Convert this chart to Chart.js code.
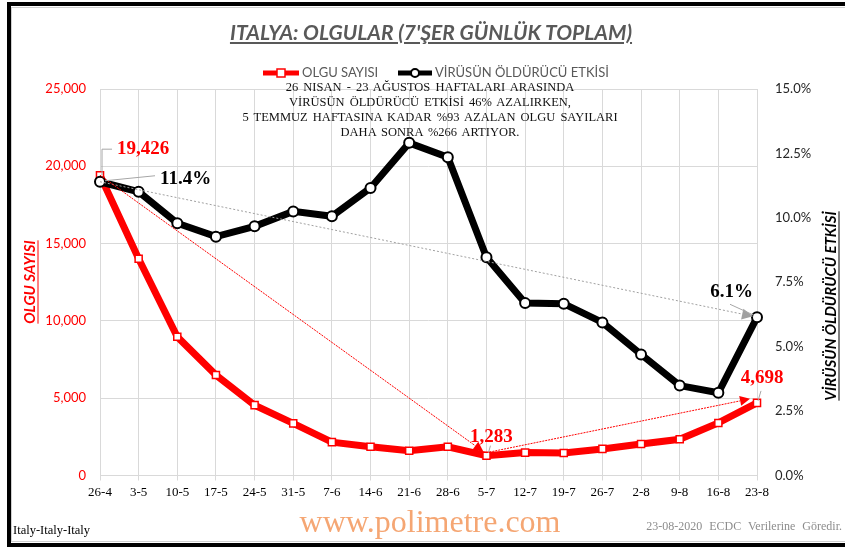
<!DOCTYPE html>
<html>
<head>
<meta charset="utf-8">
<script src="https://cdn.jsdelivr.net/npm/chart.js@4.4.0/dist/chart.umd.min.js"></script>
<style>
  html, body { margin: 0; padding: 0; background: #fff; }
  #wrap { position: relative; width: 845px; height: 548px; overflow: hidden; }
  #frame { position: absolute; left: 7px; top: 2px; width: 860px; height: 537px; border: 4px solid #000; border-right: none; }
  #inner { position: absolute; left: 11px; top: 7px; width: 860px; height: 533px; border: 1px solid #cfcfcf; border-right: none; }
  canvas { position: absolute; left: 0; top: 0; }
  #title { position: absolute; left: 0; width: 862px; top: 19px; text-align: center; font-family: Lato, sans-serif; font-weight: bold; font-style: italic; font-size: 21px; color: #595959; text-decoration: underline; }
  #note { position: absolute; left: 230px; width: 400px; top: 80px; text-align: center; font-family: "Liberation Serif", serif; font-size: 12.5px; line-height: 15px; color: #111; word-spacing: 2px; }
  #src { position: absolute; left: 13px; top: 523px; font-family: "Liberation Serif", serif; font-size: 12.5px; color: #000; }
  #web { position: absolute; left: 0; width: 860px; top: 503px; text-align: center; font-family: "Liberation Serif", serif; font-size: 32px; color: #f5a673; }
  #date { position: absolute; right: 3px; top: 519px; font-family: "Liberation Serif", serif; font-size: 12px; color: #8c8c8c; word-spacing: 4px; }
</style>
</head>
<body>
<div id="wrap">
  <div id="frame"></div>
  <div id="inner"></div>
  <canvas id="chart" width="845" height="548"></canvas>
  <div id="title">ITALYA: OLGULAR (7'ŞER GÜNLÜK TOPLAM)</div>
  <div id="note">26 NISAN - 23 AĞUSTOS  HAFTALARI  ARASINDA<br>VİRÜSÜN  ÖLDÜRÜCÜ  ETKİSİ  46% AZALIRKEN,<br>5 TEMMUZ HAFTASINA KADAR %93 AZALAN OLGU SAYILARI<br>DAHA SONRA %266 ARTIYOR.</div>
  <div id="src">Italy-Italy-Italy</div>
  <div id="web">www.polimetre.com</div>
  <div id="date">23-08-2020 ECDC Verilerine Göredir.</div>
</div>
<script>
const weeks = ['26-4', '3-5', '10-5', '17-5', '24-5', '31-5', '7-6', '14-6', '21-6', '28-6',
    '5-7', '12-7', '19-7', '26-7', '2-8', '9-8', '16-8', '23-8'];
const cases = [19426, 14020, 8970, 6500, 4550, 3370, 2160, 1860, 1600, 1860,
    1283, 1480, 1460, 1720, 2040, 2340, 3400, 4698];
const lethality = [11.4, 11.01, 9.79, 9.27, 9.67, 10.25, 10.06, 11.16, 12.91, 12.35,
    8.47, 6.69, 6.67, 5.94, 4.70, 3.49, 3.21, 6.14];
const caseTicks = [0, 5000, 10000, 15000, 20000, 25000];
const rateTicks = [0, 2.5, 5, 7.5, 10, 12.5, 15];

const RED = '#ff0000';
const GRID = '#d9d9d9';

function arrow(ctx, x1, y1, x2, y2, color, dash, head) {
    const a = Math.atan2(y2 - y1, x2 - x1);
    ctx.save();
    ctx.strokeStyle = color;
    ctx.fillStyle = color;
    ctx.lineWidth = 1;
    ctx.setLineDash(dash);
    ctx.beginPath();
    ctx.moveTo(x1, y1);
    ctx.lineTo(x2 - Math.cos(a) * head, y2 - Math.sin(a) * head);
    ctx.stroke();
    ctx.setLineDash([]);
    ctx.beginPath();
    ctx.moveTo(x2, y2);
    ctx.lineTo(x2 - head * Math.cos(a) + head * 0.5 * Math.sin(a), y2 - head * Math.sin(a) - head * 0.5 * Math.cos(a));
    ctx.lineTo(x2 - head * Math.cos(a) - head * 0.5 * Math.sin(a), y2 - head * Math.sin(a) + head * 0.5 * Math.cos(a));
    ctx.closePath();
    ctx.fill();
    ctx.restore();
}

function leader(ctx, pts) {
    ctx.save();
    ctx.strokeStyle = '#a6a6a6';
    ctx.lineWidth = 1;
    ctx.beginPath();
    ctx.moveTo(pts[0][0], pts[0][1]);
    for (let i = 1; i < pts.length; i++) ctx.lineTo(pts[i][0], pts[i][1]);
    ctx.stroke();
    ctx.restore();
}

function label(ctx, text, x, y, color, align) {
    ctx.save();
    ctx.font = 'bold 19px "Liberation Serif"';
    ctx.fillStyle = color;
    ctx.textAlign = align;
    ctx.textBaseline = 'middle';
    ctx.fillText(text, x, y);
    ctx.restore();
}

const extras = {
    id: 'extras',
    afterDatasetsDraw(chart) {
        const ctx = chart.ctx;
        const x = chart.scales.x, y = chart.scales.y, y1 = chart.scales.y1;
        const last = weeks.length - 1;
        const low = cases.indexOf(Math.min(...cases));

        const cx0 = x.getPixelForValue(0), cxL = x.getPixelForValue(last), cxM = x.getPixelForValue(low);
        const r0 = y.getPixelForValue(cases[0]), rL = y.getPixelForValue(cases[last]), rM = y.getPixelForValue(cases[low]);
        const b0 = y1.getPixelForValue(lethality[0]), bL = y1.getPixelForValue(lethality[last]);

        // trend arrows
        arrow(ctx, cx0, b0, cxL - 4, bL - 1, '#a0a0a0', [2, 2], 11);
        arrow(ctx, cx0, r0, cxM - 3, rM - 4, RED, [2, 1], 10);
        arrow(ctx, cxM, rM - 3, cxL - 7, rL - 4, RED, [2, 1], 10);

        // data labels with leader lines
        leader(ctx, [[cx0 + 2, r0], [cx0 + 2, r0 - 26], [cx0 + 12, r0 - 26]]);
        label(ctx, '19,426', cx0 + 17, r0 - 26, RED, 'left');
        leader(ctx, [[cx0 + 5, b0 - 1], [cx0 + 55, b0 - 6]]);
        label(ctx, '11.4%', cx0 + 60, b0 - 3, '#000', 'left');
        leader(ctx, [[cxM + 2, rM - 3], [cxM + 4, rM - 10]]);
        label(ctx, '1,283', cxM + 5, rM - 19, RED, 'center');
        leader(ctx, [[cxL + 1, rL - 2], [cxL + 4, rL - 12]]);
        label(ctx, '4,698', cxL + 5, rL - 25, RED, 'center');
        leader(ctx, [[cxL - 3, bL - 2], [cxL - 27, bL - 13]]);
        label(ctx, '6.1%', cxL - 4, bL - 25, '#000', 'right');

        // legend
        ctx.save();
        ctx.lineWidth = 5;
        ctx.strokeStyle = RED;
        ctx.beginPath(); ctx.moveTo(263, 73); ctx.lineTo(299, 73); ctx.stroke();
        ctx.fillStyle = '#fff';
        ctx.lineWidth = 1.5;
        ctx.fillRect(277, 69, 8, 8); ctx.strokeRect(277, 69, 8, 8);
        ctx.lineWidth = 5;
        ctx.strokeStyle = '#000';
        ctx.beginPath(); ctx.moveTo(398, 73); ctx.lineTo(432, 73); ctx.stroke();
        ctx.lineWidth = 2;
        ctx.beginPath(); ctx.arc(415, 73, 4, 0, Math.PI * 2); ctx.fill(); ctx.stroke();
        ctx.font = '13px Lato';
        ctx.fillStyle = '#595959';
        ctx.textBaseline = 'middle';
        ctx.fillText('OLGU SAYISI', 302, 73);
        ctx.fillText('VİRÜSÜN ÖLDÜRÜCÜ ETKİSİ', 435, 73);
        ctx.restore();

        // axis titles
        const axisTitle = (text, cx, cy, color) => {
            ctx.save();
            ctx.translate(cx, cy);
            ctx.rotate(-Math.PI / 2);
            ctx.font = 'bold italic 15px Lato';
            ctx.fillStyle = color;
            ctx.strokeStyle = color;
            ctx.textAlign = 'center';
            ctx.textBaseline = 'middle';
            ctx.fillText(text, 0, 0);
            const w = ctx.measureText(text).width;
            ctx.lineWidth = 1;
            ctx.beginPath(); ctx.moveTo(-w / 2, 8); ctx.lineTo(w / 2, 8); ctx.stroke();
            ctx.restore();
        };
        axisTitle('OLGU SAYISI', 30, 282, RED);
        axisTitle('VİRÜSÜN ÖLDÜRÜCÜ ETKİSİ', 831, 306, '#000');
    }
};

new Chart(document.getElementById('chart'), {
    type: 'line',
    data: {
        labels: weeks,
        datasets: [{
            label: 'VİRÜSÜN ÖLDÜRÜCÜ ETKİSİ',
            data: lethality,
            yAxisID: 'y1',
            borderColor: '#000',
            borderWidth: 7,
            pointStyle: 'circle',
            pointRadius: 5,
            pointBorderWidth: 2,
            pointBackgroundColor: '#fff',
            pointBorderColor: '#000',
            tension: 0,
            order: 0
        }, {
            label: 'OLGU SAYISI',
            data: cases,
            yAxisID: 'y',
            borderColor: RED,
            borderWidth: 7,
            pointStyle: 'rect',
            pointRadius: 5,
            pointBorderWidth: 1.5,
            pointBackgroundColor: '#fff',
            pointBorderColor: RED,
            tension: 0,
            order: 1
        }]
    },
    options: {
        responsive: false,
        animation: false,
        devicePixelRatio: 1,
        layout: { padding: { top: 89, left: 0, right: 0, bottom: 0 } },
        plugins: { legend: { display: false }, tooltip: { enabled: false } },
        scales: {
            x: {
                offset: false,
                grid: { color: GRID, tickLength: 5 },
                border: { color: GRID },
                ticks: { color: '#000', font: { family: 'Liberation Serif', size: 13 }, padding: 4, maxRotation: 0, autoSkip: false },
                afterFit(s) { s.height = 72.5; }
            },
            y: {
                position: 'left',
                min: caseTicks[0],
                max: caseTicks[caseTicks.length - 1],
                afterBuildTicks(s) { s.ticks = caseTicks.map(v => ({ value: v })); },
                grid: { color: GRID, drawTicks: false },
                border: { display: false },
                ticks: { color: RED, font: { family: 'Lato', size: 13 }, padding: 14,
                    callback: v => v.toLocaleString('en-US') },
                afterFit(s) { s.width = 100; }
            },
            y1: {
                position: 'right',
                min: rateTicks[0],
                max: rateTicks[rateTicks.length - 1],
                afterBuildTicks(s) { s.ticks = rateTicks.map(v => ({ value: v })); },
                grid: { display: false, drawTicks: false },
                border: { display: false },
                ticks: { color: '#262626', font: { family: 'Lato', size: 13 }, padding: 18,
                    callback: v => v.toFixed(1) + '%' },
                afterFit(s) { s.width = 88; }
            }
        }
    },
    plugins: [extras]
});
</script>
</body>
</html>
